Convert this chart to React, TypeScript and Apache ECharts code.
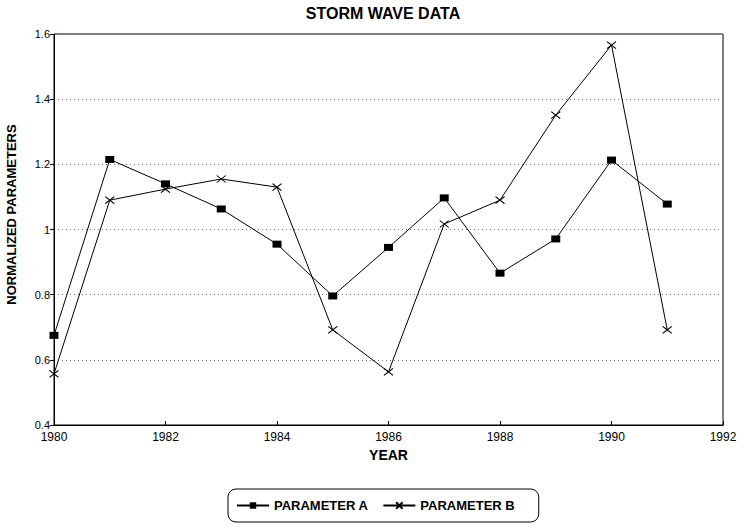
import React, { useEffect, useRef } from "react";
import * as echarts from "echarts";

const years = [1980, 1981, 1982, 1983, 1984, 1985, 1986, 1987, 1988, 1989, 1990, 1991];
const paramA = [0.675, 1.215, 1.14, 1.063, 0.955, 0.796, 0.945, 1.097, 0.866, 0.971, 1.213, 1.078];
const paramB = [0.557, 1.09, 1.124, 1.155, 1.13, 0.692, 0.563, 1.017, 1.09, 1.351, 1.566, 0.692];
const seriesNames = ["PARAMETER A", "PARAMETER B"];
const titleText = "STORM WAVE DATA";
const xName = "YEAR";
const yName = "NORMALIZED PARAMETERS";

const FONT = "'Liberation Sans', Arial, sans-serif";
const CROSS = "path://M0,0L10,10M10,0L0,10";

export default function App() {
  const ref = useRef<HTMLDivElement>(null);
  useEffect(() => {
    if (!ref.current) return;
    const chart = echarts.init(ref.current, undefined, { renderer: "svg" });
    chart.setOption({
      animation: false,
      backgroundColor: "#fff",
      title: {
        text: titleText,
        left: 378,
        textAlign: "center",
        top: 0,
        textStyle: { fontFamily: FONT, fontWeight: "bold", fontSize: 16, color: "#000" },
      },
      legend: {
        left: 228,
        top: 489,
        padding: [10, 24, 10, 8],
        borderColor: "#000",
        borderWidth: 1,
        borderRadius: 8,
        itemWidth: 32,
        itemHeight: 8,
        itemGap: 14,
        textStyle: { fontFamily: FONT, fontWeight: "bold", fontSize: 13, color: "#000" },
        data: seriesNames,
      },
      grid: {
        left: 54,
        right: 22,
        top: 34,
        bottom: 105,
        outerBoundsMode: "none",
        containLabel: false,
        show: true,
        borderColor: "#000",
        borderWidth: 1,
        backgroundColor: "transparent",
      },
      xAxis: {
        type: "value",
        min: 1980,
        max: 1992,
        interval: 2,
        name: xName,
        nameLocation: "middle",
        nameGap: 22,
        nameTextStyle: { fontFamily: FONT, fontWeight: "bold", fontSize: 14, color: "#000" },
        axisLine: { show: true, lineStyle: { color: "#000", width: 1 } },
        axisTick: { show: true, inside: true, length: 4, lineStyle: { color: "#000" } },
        axisLabel: {
          fontFamily: FONT,
          fontSize: 12,
          color: "#000",
          margin: 6,
          formatter: (v: number) => String(v),
        },
        splitLine: { show: false },
      },
      yAxis: {
        type: "value",
        min: 0.4,
        max: 1.6,
        interval: 0.2,
        name: yName,
        nameLocation: "middle",
        nameGap: 36,
        nameTextStyle: {
          fontFamily: FONT,
          fontWeight: "bold",
          fontSize: 13,
          color: "#000",
          padding: [0, 0, 0, 30],
        },
        axisLine: { show: true, lineStyle: { color: "#000", width: 1 } },
        axisTick: { show: true, inside: false, length: 4, lineStyle: { color: "#000" } },
        axisLabel: { fontFamily: FONT, fontSize: 11, color: "#000", margin: 4 },
        splitLine: { show: true, lineStyle: { color: "#777", type: [1, 3], width: 1 } },
      },
      series: [
        {
          name: seriesNames[0],
          type: "line",
          data: years.map((y, i) => [y, paramA[i]]),
          symbol: "rect",
          symbolSize: [9, 7],
          showAllSymbol: true,
          lineStyle: { color: "#000", width: 1 },
          itemStyle: { color: "#000" },
        },
        {
          name: seriesNames[1],
          type: "line",
          data: years.map((y, i) => [y, paramB[i]]),
          symbol: CROSS,
          symbolSize: [9, 7],
          showAllSymbol: true,
          lineStyle: { color: "#000", width: 1 },
          itemStyle: { color: "none", borderColor: "#000", borderWidth: 1 },
        },
      ],
    });
    return () => chart.dispose();
  }, []);
  return (
    <div
      ref={ref}
      style={{ position: "fixed", left: 0, top: 0, width: 745, height: 530 }}
    />
  );
}
